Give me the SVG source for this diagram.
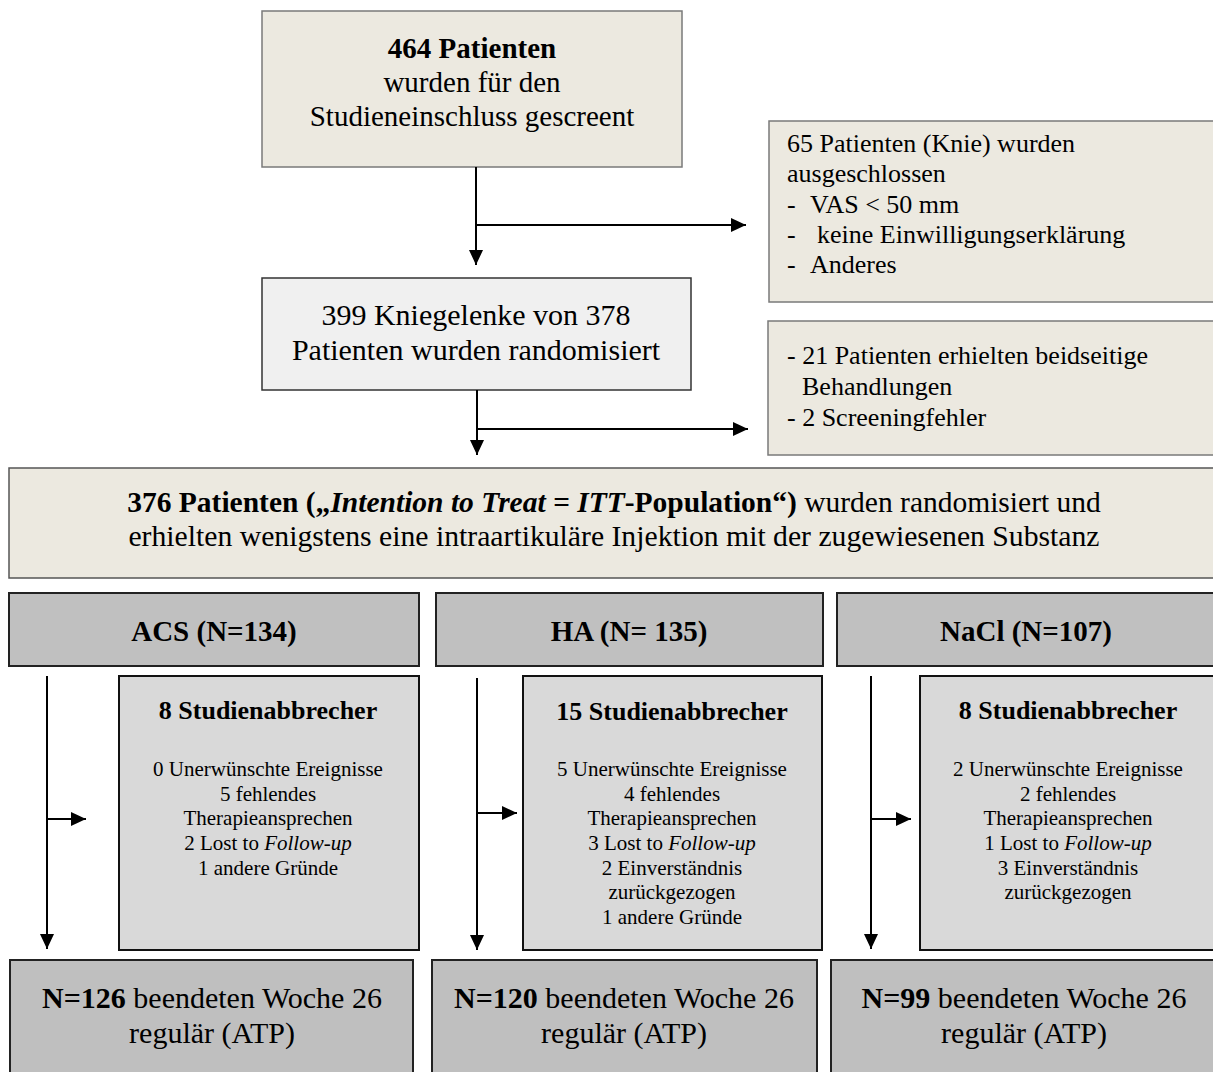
<svg xmlns="http://www.w3.org/2000/svg" width="1213" height="1072" viewBox="0 0 1213 1072">
<style>
text{font-family:"Liberation Serif","Times New Roman",serif;fill:#000}
.c{text-anchor:middle}
.b{font-weight:bold}
.i{font-style:italic}
.beige{fill:#ece9e0;stroke:#7a7a7a;stroke-width:1.5}
.lite{fill:#f0f0f0;stroke:#333;stroke-width:1.5}
.hdr{fill:#c0c0c0;stroke:#222;stroke-width:2}
.drop{fill:#d9d9d9;stroke:#111;stroke-width:2}
.end{fill:#bfbfbf;stroke:#222;stroke-width:2}
.f29{font-size:29px}
.f26{font-size:26px}
.f21{font-size:21px}
.f30{font-size:30px}
.conn path{fill:none;stroke:#000;stroke-width:2;marker-end:url(#ah)}
</style>
<defs>
<marker id="ah" markerUnits="userSpaceOnUse" markerWidth="16" markerHeight="15" refX="15" refY="7" orient="auto">
<path d="M0,0 L15,7 L0,14 z" fill="#000"/>
</marker>
</defs>
<rect width="1213" height="1072" fill="#fff"/>

<g id="screened">
<rect class="beige" x="262" y="11" width="420" height="156"/>
<text class="c f29 b" x="472" y="58">464 Patienten</text>
<text class="c f29" x="472" y="92">wurden für den</text>
<text class="c f29" x="472" y="126">Studieneinschluss gescreent</text>
</g>

<g id="excluded1">
<rect class="beige" x="769" y="121" width="460" height="181"/>
<text class="f26" x="787" y="152">65 Patienten (Knie) wurden</text>
<text class="f26" x="787" y="182">ausgeschlossen</text>
<text class="f26" y="213"><tspan x="787">-</tspan><tspan x="810">VAS &lt; 50 mm</tspan></text>
<text class="f26" y="243"><tspan x="787">-</tspan><tspan x="817">keine Einwilligungserklärung</tspan></text>
<text class="f26" y="273"><tspan x="787">-</tspan><tspan x="810">Anderes</tspan></text>
</g>

<g id="randomized">
<rect class="lite" x="262" y="278" width="429" height="112"/>
<text class="c f30" x="476" y="325">399 Kniegelenke von 378</text>
<text class="c f30" x="476" y="360">Patienten wurden randomisiert</text>
</g>

<g id="excluded2">
<rect class="beige" x="768" y="321" width="460" height="134"/>
<text class="f26" x="787" y="364">- 21 Patienten erhielten beidseitige</text>
<text class="f26" x="802" y="395">Behandlungen</text>
<text class="f26" x="787" y="426">- 2 Screeningfehler</text>
</g>

<g id="itt">
<rect x="9" y="468" width="1220" height="110" fill="#ece9e0" stroke="#555" stroke-width="1.5"/>
<text class="c" x="614" y="512" style="font-size:29.5px"><tspan class="b">376 Patienten („</tspan><tspan class="b i">Intention to Treat = ITT</tspan><tspan class="b">-Population“)</tspan> wurden randomisiert und</text>
<text class="c" x="614" y="546" style="font-size:29.7px">erhielten wenigstens eine intraartikuläre Injektion mit der zugewiesenen Substanz</text>
</g>

<g id="acs-header">
<rect class="hdr" x="9" y="593" width="410" height="73"/>
<text class="c f29 b" x="214" y="641">ACS (N=134)</text>
</g>
<g id="ha-header">
<rect class="hdr" x="436" y="593" width="387" height="73"/>
<text class="c f29 b" x="629" y="641">HA (N= 135)</text>
</g>
<g id="nacl-header">
<rect class="hdr" x="837" y="593" width="390" height="73"/>
<text class="c f29 b" x="1026" y="641">NaCl (N=107)</text>
</g>

<g id="acs-dropouts">
<rect class="drop" x="119" y="676" width="300" height="274"/>
<text class="c f26 b" x="268" y="719">8 Studienabbrecher</text>
<text class="c f21" x="268" y="776">0 Unerwünschte Ereignisse</text>
<text class="c f21" x="268" y="801">5 fehlendes</text>
<text class="c f21" x="268" y="825">Therapieansprechen</text>
<text class="c f21" x="268" y="850">2 Lost to <tspan class="i">Follow-up</tspan></text>
<text class="c f21" x="268" y="875">1 andere Gründe</text>
</g>

<g id="ha-dropouts">
<rect class="drop" x="523" y="676" width="299" height="274"/>
<text class="c f26 b" x="672" y="720">15 Studienabbrecher</text>
<text class="c f21" x="672" y="776">5 Unerwünschte Ereignisse</text>
<text class="c f21" x="672" y="801">4 fehlendes</text>
<text class="c f21" x="672" y="825">Therapieansprechen</text>
<text class="c f21" x="672" y="850">3 Lost to <tspan class="i">Follow-up</tspan></text>
<text class="c f21" x="672" y="875">2 Einverständnis</text>
<text class="c f21" x="672" y="899">zurückgezogen</text>
<text class="c f21" x="672" y="924">1 andere Gründe</text>
</g>

<g id="nacl-dropouts">
<rect class="drop" x="920" y="676" width="300" height="274"/>
<text class="c f26 b" x="1068" y="719">8 Studienabbrecher</text>
<text class="c f21" x="1068" y="776">2 Unerwünschte Ereignisse</text>
<text class="c f21" x="1068" y="801">2 fehlendes</text>
<text class="c f21" x="1068" y="825">Therapieansprechen</text>
<text class="c f21" x="1068" y="850">1 Lost to <tspan class="i">Follow-up</tspan></text>
<text class="c f21" x="1068" y="875">3 Einverständnis</text>
<text class="c f21" x="1068" y="899">zurückgezogen</text>
</g>

<g id="acs-completed">
<rect class="end" x="10" y="960" width="403" height="130"/>
<text class="c f30" x="212" y="1008"><tspan class="b">N=126</tspan> beendeten Woche 26</text>
<text class="c f30" x="212" y="1043">regulär (ATP)</text>
</g>
<g id="ha-completed">
<rect class="end" x="432" y="960" width="385" height="130"/>
<text class="c f30" x="624" y="1008"><tspan class="b">N=120</tspan> beendeten Woche 26</text>
<text class="c f30" x="624" y="1043">regulär (ATP)</text>
</g>
<g id="nacl-completed">
<rect class="end" x="831" y="960" width="400" height="130"/>
<text class="c f30" x="1024" y="1008"><tspan class="b">N=99</tspan> beendeten Woche 26</text>
<text class="c f30" x="1024" y="1043">regulär (ATP)</text>
</g>

<g id="connectors" class="conn">
<path d="M476,167 V265"/>
<path d="M476,225 H746"/>
<path d="M477,390 V455"/>
<path d="M477,429 H748"/>
<path d="M47,676 V949"/>
<path d="M47,819 H86"/>
<path d="M477,678 V950"/>
<path d="M477,813 H517"/>
<path d="M871,676 V949"/>
<path d="M871,819 H911"/>
</g>
</svg>
